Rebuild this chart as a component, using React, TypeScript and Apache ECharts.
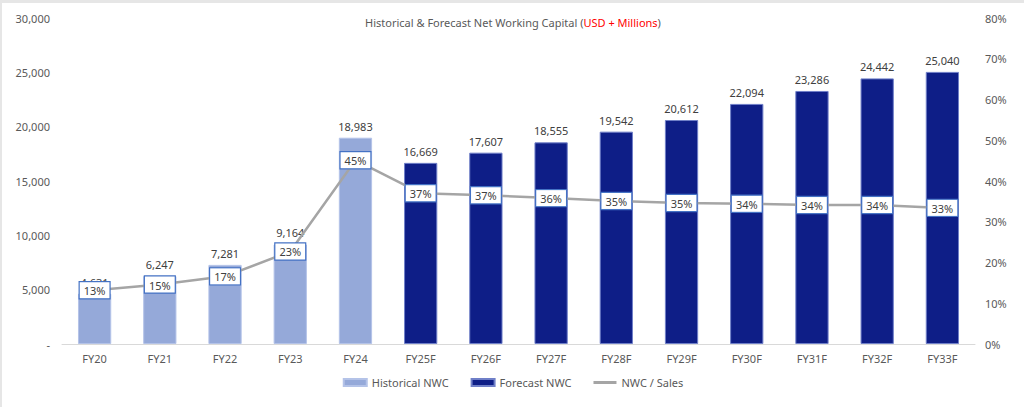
import { useEffect, useRef } from 'react';
import * as echarts from 'echarts';

const categories = ['FY20', 'FY21', 'FY22', 'FY23', 'FY24', 'FY25F', 'FY26F', 'FY27F', 'FY28F', 'FY29F', 'FY30F', 'FY31F', 'FY32F', 'FY33F'];
const historicalNwc = [4631, 6247, 7281, 9164, 18983, null, null, null, null, null, null, null, null, null];
const forecastNwc = [null, null, null, null, null, 16669, 17607, 18555, 19542, 20612, 22094, 23286, 24442, 25040];
const nwcToSales = [13.2, 14.6, 16.6, 22.7, 45.1, 37.0, 36.5, 35.8, 35.1, 34.6, 34.4, 34.1, 34.1, 33.4];

const FONT = '"Noto Sans", sans-serif';
const TEXT = '#595959';

const fmt = (v: number) => (v === 0 ? '-' : v.toLocaleString('en-US'));

const App = () => {
  const ref = useRef<HTMLDivElement | null>(null);

  useEffect(() => {
    if (!ref.current) {
      return;
    }
    const chart = echarts.init(ref.current, null, { renderer: 'svg' });
    const barLabel = {
      show: true,
      position: 'top',
      distance: 6,
      color: '#404040',
      fontSize: 11,
      fontFamily: FONT,
      formatter: (p: any) => fmt(p.value)
    };
    chart.setOption({
      animation: false,
      textStyle: { fontFamily: FONT },
      title: {
        text: '{a|Historical & Forecast Net Working Capital (}{b|USD + Millions}{a|)}',
        left: 'center',
        top: 9,
        textStyle: {
          rich: {
            a: { color: TEXT, fontSize: 11, fontFamily: FONT, fontWeight: 'normal' },
            b: { color: '#FF0000', fontSize: 11, fontFamily: FONT, fontWeight: 'normal' }
          }
        }
      },
      grid: { left: 60, right: 49, top: 15, bottom: 63 },
      legend: {
        bottom: 14,
        left: 'center',
        itemWidth: 23,
        itemHeight: 7,
        itemGap: 22,
        textStyle: { color: TEXT, fontSize: 11, fontFamily: FONT },
        data: [
          { name: 'Historical NWC', icon: 'rect' },
          { name: 'Forecast NWC', icon: 'rect' },
          { name: 'NWC / Sales', icon: 'path://M0,0h23v3H0z', itemStyle: { color: '#A5A5A5' } }
        ]
      },
      xAxis: {
        type: 'category',
        data: categories,
        axisLine: { lineStyle: { color: '#D9D9D9', width: 1 } },
        axisTick: { show: false },
        axisLabel: { color: TEXT, fontSize: 11, margin: 9 }
      },
      yAxis: [
        {
          type: 'value',
          min: 0,
          max: 30000,
          interval: 5000,
          splitLine: { show: false },
          axisLine: { show: false },
          axisTick: { show: false },
          axisLabel: { color: TEXT, fontSize: 11, margin: 12, formatter: fmt }
        },
        {
          type: 'value',
          min: 0,
          max: 80,
          interval: 10,
          splitLine: { show: false },
          axisLine: { show: false },
          axisTick: { show: false },
          axisLabel: { color: TEXT, fontSize: 11, margin: 10, formatter: '{value}%' }
        }
      ],
      series: [
        {
          name: 'Historical NWC',
          type: 'bar',
          stack: 'nwc',
          barWidth: '51%',
          data: historicalNwc,
          itemStyle: { color: '#95A9D9', borderColor: '#B4C3E8', borderWidth: 1 },
          label: barLabel
        },
        {
          name: 'Forecast NWC',
          type: 'bar',
          stack: 'nwc',
          barWidth: '51%',
          data: forecastNwc,
          itemStyle: { color: '#0E1E87', borderColor: '#6F7FC8', borderWidth: 1 },
          label: barLabel
        },
        {
          name: 'NWC / Sales',
          type: 'line',
          yAxisIndex: 1,
          data: nwcToSales,
          symbol: 'circle',
          symbolSize: 2,
          showSymbol: true,
          z: 5,
          itemStyle: { color: '#A5A5A5' },
          lineStyle: { color: '#A5A5A5', width: 2.5 },
          label: {
            show: true,
            position: 'top',
            distance: 0,
            offset: [0, 9],
            color: '#404040',
            fontSize: 11,
            fontFamily: FONT,
            backgroundColor: '#FFFFFF',
            borderColor: '#4472C4',
            borderWidth: 1.2,
            padding: [3, 4, 2, 4],
            formatter: (p: any) => Math.round(p.value) + '%'
          }
        }
      ]
    });
    return () => {
      chart.dispose();
    };
  }, []);

  return (
    <div
      style={{
        position: 'absolute',
        left: 0,
        top: 0,
        width: 1024,
        height: 407,
        boxSizing: 'border-box',
        borderTop: '3px solid #E6E6E6',
        borderLeft: '2px solid #E6E6E6',
        background: '#FFFFFF'
      }}
    >
      <div ref={ref} style={{ width: 1022, height: 404 }} />
    </div>
  );
};

export default App;
